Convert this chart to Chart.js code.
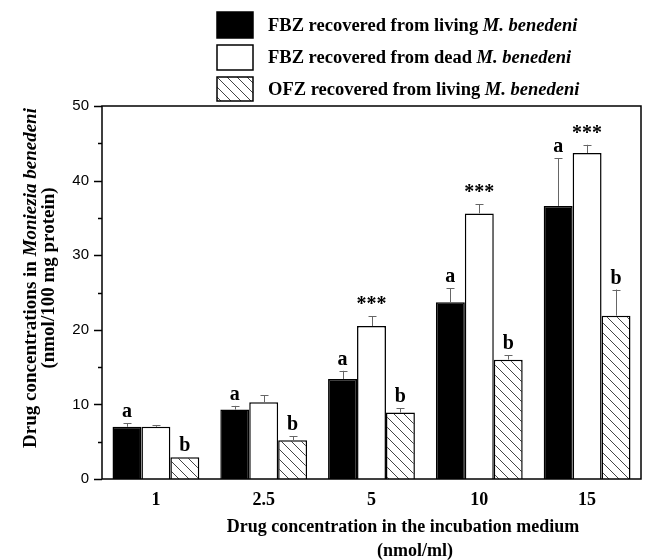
<!DOCTYPE html>
<html>
<head>
<meta charset="utf-8">
<script src="https://cdn.jsdelivr.net/npm/chart.js@4"></script>
<style>
  html, body { margin: 0; padding: 0; background: #fff; }
  #c { display: block; }
</style>
</head>
<body>
<canvas id="c" width="645" height="560"></canvas>
<script>
// ---- data ----
const categories = ['1', '2.5', '5', '10', '15'];
const fbzLiving = [7.0, 9.3, 13.4, 23.7, 36.6];
const fbzLivingErr = [0.5, 0.5, 1.1, 1.9, 6.4];
const fbzDead = [7.0, 10.3, 20.5, 35.6, 43.7];
const fbzDeadErr = [0.2, 0.9, 1.3, 1.2, 1.1];
const ofzLiving = [2.9, 5.2, 8.9, 16.0, 21.9];
const ofzLivingErr = [0.0, 0.55, 0.6, 0.6, 3.5];
const fbzLivingMarks = ['a', 'a', 'a', 'a', 'a'];
const fbzDeadMarks = ['', '', '***', '***', '***'];
const ofzLivingMarks = ['b', 'b', 'b', 'b', 'b'];
const yTicks = [0, 10, 20, 30, 40, 50];
const seriesNames = [
  [['FBZ recovered from living ', false], ['M. benedeni', true]],
  [['FBZ recovered from dead ', false], ['M. benedeni', true]],
  [['OFZ recovered from living ', false], ['M. benedeni', true]]
];
const yTitle1 = [['Drug concentrations in ', false], ['Moniezia benedeni', true]];
const yTitle2 = '(nmol/100 mg protein)';
const xTitle1 = 'Drug concentration in the incubation medium';
const xTitle2 = '(nmol/ml)';

const SERIF = "'Liberation Serif', 'Times New Roman', serif";
const SANS = "'Liberation Sans', Arial, sans-serif";

function makeHatch() {
  const s = 10;
  const c = document.createElement('canvas');
  c.width = s; c.height = s;
  const g = c.getContext('2d');
  g.fillStyle = '#fff';
  g.fillRect(0, 0, s, s);
  g.strokeStyle = '#444';
  g.lineWidth = 1;
  g.beginPath();
  g.moveTo(-2, -2); g.lineTo(s + 2, s + 2);
  g.moveTo(-2 - s, -2); g.lineTo(2, s + 2);
  g.moveTo(s - 2, -2); g.lineTo(2 * s + 2, s + 2);
  g.stroke();
  return document.getElementById('c').getContext('2d').createPattern(c, 'repeat');
}
const hatch = makeHatch();

function drawRich(ctx, parts, x, y, size, align) {
  let total = 0;
  parts.forEach(p => {
    ctx.font = (p[1] ? 'italic bold ' : 'bold ') + size + 'px ' + SERIF;
    total += ctx.measureText(p[0]).width;
  });
  let cx = align === 'center' ? x - total / 2 : x;
  ctx.textAlign = 'left';
  parts.forEach(p => {
    ctx.font = (p[1] ? 'italic bold ' : 'bold ') + size + 'px ' + SERIF;
    ctx.fillText(p[0], cx, y);
    cx += ctx.measureText(p[0]).width;
  });
}

const errs = [fbzLivingErr, fbzDeadErr, ofzLivingErr];
const marks = [fbzLivingMarks, fbzDeadMarks, ofzLivingMarks];

const decor = {
  id: 'decor',
  afterDatasetsDraw(chart) {
    const ctx = chart.ctx;
    const ca = chart.chartArea;
    const ys = chart.scales.y;
    ctx.save();
    // error bars
    ctx.strokeStyle = '#666';
    ctx.lineWidth = 1;
    chart.data.datasets.forEach((ds, i) => {
      const meta = chart.getDatasetMeta(i);
      meta.data.forEach((bar, j) => {
        const v = ds.data[j];
        const e = errs[i][j];
        const top = ys.getPixelForValue(v + e);
        if (e > 0) {
          const x = Math.round(bar.x) + 0.5;
          ctx.beginPath();
          ctx.moveTo(x, bar.y);
          ctx.lineTo(x, top);
          ctx.moveTo(x - 4, Math.round(top) + 0.5);
          ctx.lineTo(x + 4, Math.round(top) + 0.5);
          ctx.stroke();
        }
        const m = marks[i][j];
        if (m) {
          ctx.fillStyle = '#000';
          ctx.font = 'bold 20px ' + SERIF;
          ctx.textAlign = 'center';
          ctx.textBaseline = 'alphabetic';
          ctx.fillText(m, bar.x, top - 6);
        }
      });
    });
    // frame
    ctx.strokeStyle = '#000';
    ctx.lineWidth = 1.5;
    ctx.strokeRect(ca.left, ca.top, ca.right - ca.left, ca.bottom - ca.top);
    // y ticks (major + minor)
    ctx.lineWidth = 1.5;
    ctx.beginPath();
    for (let v = 0; v <= 50; v += 5) {
      const py = Math.round(ys.getPixelForValue(v)) + 0.5;
      const len = v % 10 === 0 ? 8 : 4;
      ctx.moveTo(ca.left - len, py);
      ctx.lineTo(ca.left, py);
    }
    ctx.stroke();
    // legend
    const boxX = 217, boxW = 36;
    const rows = [{ y: 12, h: 26 }, { y: 45, h: 25 }, { y: 77, h: 24 }];
    const fills = ['#000', '#fff', hatch];
    rows.forEach((r, i) => {
      ctx.fillStyle = fills[i];
      ctx.fillRect(boxX, r.y, boxW, r.h);
      ctx.strokeStyle = '#000';
      ctx.lineWidth = 1.5;
      ctx.strokeRect(boxX, r.y, boxW, r.h);
      ctx.fillStyle = '#000';
      ctx.textBaseline = 'middle';
      drawRich(ctx, seriesNames[i], 268, r.y + r.h / 2 + 1, 18.5, 'left');
    });
    // y title
    ctx.fillStyle = '#000';
    ctx.save();
    ctx.translate(31, 278);
    ctx.rotate(-Math.PI / 2);
    ctx.textBaseline = 'middle';
    drawRich(ctx, yTitle1, 0, 0, 19, 'center');
    ctx.restore();
    ctx.save();
    ctx.translate(49, 278);
    ctx.rotate(-Math.PI / 2);
    ctx.textBaseline = 'middle';
    drawRich(ctx, [[yTitle2, false]], 0, 0, 19, 'center');
    ctx.restore();
    // x title
    ctx.textBaseline = 'middle';
    drawRich(ctx, [[xTitle1, false]], 403, 527, 18, 'center');
    drawRich(ctx, [[xTitle2, false]], 415, 551, 18, 'center');
    ctx.restore();
  }
};

new Chart(document.getElementById('c'), {
  type: 'bar',
  data: {
    labels: categories,
    datasets: [
      { label: 'FBZ living', data: fbzLiving, backgroundColor: '#000', borderColor: '#000', borderWidth: 1.5 },
      { label: 'FBZ dead', data: fbzDead, backgroundColor: '#fff', borderColor: '#000', borderWidth: 1.5 },
      { label: 'OFZ living', data: ofzLiving, backgroundColor: hatch, borderColor: '#000', borderWidth: 1.5 }
    ]
  },
  options: {
    responsive: false,
    animation: false,
    devicePixelRatio: 1,
    layout: { padding: { left: 0, top: 106, right: 4, bottom: 0 } },
    datasets: { bar: { barPercentage: 1.0, categoryPercentage: 0.805 } },
    plugins: { legend: { display: false }, tooltip: { enabled: false }, title: { display: false } },
    scales: {
      x: {
        grid: { display: false, drawTicks: false },
        border: { display: false },
        ticks: { color: '#000', font: { family: SERIF, size: 18, weight: 'bold' }, padding: 11 },
        afterFit: s => { s.height = 81; }
      },
      y: {
        min: 0, max: 50,
        afterBuildTicks: s => { s.ticks = yTicks.map(v => ({ value: v })); },
        grid: { display: false, drawTicks: false },
        border: { display: false },
        ticks: { color: '#000', font: { family: SANS, size: 15 }, padding: 13 },
        afterFit: s => { s.width = 102; }
      }
    }
  },
  plugins: [decor]
});
</script>
</body>
</html>
